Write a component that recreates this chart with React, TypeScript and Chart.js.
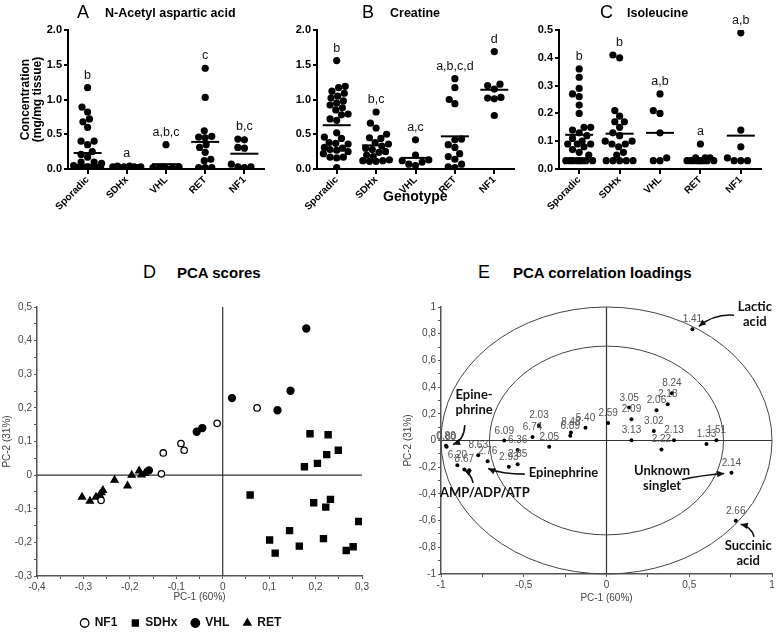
import React, { useEffect, useRef } from 'react';
import { Chart, registerables } from 'chart.js';
Chart.register(...registerables);

const FONT = "'Liberation Sans', Arial, sans-serif";

// ---------- Top row: genotype dot plots ----------
const genotypes = ['Sporadic', 'SDHx', 'VHL', 'RET', 'NF1'];

// A: N-Acetyl aspartic acid (mg/mg tissue)
const naaSporadic = [1.17, 0.89, 0.82, 0.72, 0.68, 0.60, 0.40, 0.40, 0.35, 0.25, 0.21, 0.17, 0.10, 0.10, 0.08, 0.05, 0.03, 0.03, 0.02, 0.02, 0.02, 0.02, 0.02, 0.02, 0.02, 0.01, 0.01, 0.01, 0.01, 0.01, 0.01];
const naaSDHx = [0.04, 0.04, 0.03, 0.03, 0.03, 0.03, 0.02, 0.02, 0.02, 0.02, 0.02, 0.02, 0.02, 0.02, 0.01, 0.01, 0.01, 0.01, 0.01, 0.01, 0.01, 0.01];
const naaVHL = [0.35, 0.03, 0.03, 0.02, 0.02, 0.02, 0.01];
const naaRET = [1.45, 1.03, 0.55, 0.47, 0.46, 0.45, 0.35, 0.31, 0.24, 0.14, 0.12, 0.02, 0.02, 0.02];
const naaNF1 = [0.43, 0.42, 0.31, 0.30, 0.07, 0.03, 0.03, 0.02];
const naaMeans = [0.23, 0.02, 0.07, 0.39, 0.22];
const naaLetters = ['b', 'a', 'a,b,c', 'c', 'b,c'];

// B: Creatine
const creaSporadic = [1.56, 1.19, 1.17, 1.12, 1.09, 1.05, 1.02, 0.98, 0.95, 0.92, 0.88, 0.85, 0.79, 0.78, 0.72, 0.70, 0.52, 0.46, 0.44, 0.38, 0.37, 0.36, 0.31, 0.30, 0.28, 0.27, 0.25, 0.22, 0.17, 0.17, 0.16, 0.02];
const creaSDHx = [0.82, 0.66, 0.59, 0.50, 0.45, 0.44, 0.38, 0.36, 0.33, 0.30, 0.28, 0.25, 0.24, 0.20, 0.18, 0.13, 0.12, 0.12, 0.11, 0.11];
const creaVHL = [0.42, 0.20, 0.13, 0.12, 0.10, 0.07, 0.05];
const creaRET = [1.30, 1.17, 1.00, 0.94, 0.43, 0.42, 0.35, 0.31, 0.22, 0.18, 0.14, 0.07, 0.03, 0.02];
const creaNF1 = [1.69, 1.22, 1.20, 1.15, 1.03, 1.02, 1.01, 0.77];
const creaMeans = [0.63, 0.34, 0.16, 0.47, 1.14];
const creaLetters = ['b', 'b,c', 'a,c', 'a,b,c,d', 'd'];

// C: Isoleucine
const ileSporadic = [0.36, 0.33, 0.29, 0.27, 0.26, 0.23, 0.20, 0.15, 0.15, 0.14, 0.13, 0.12, 0.11, 0.10, 0.09, 0.09, 0.09, 0.08, 0.07, 0.06, 0.05, 0.03, 0.03, 0.03, 0.03, 0.03, 0.03, 0.03, 0.03];
const ileSDHx = [0.41, 0.40, 0.21, 0.19, 0.17, 0.17, 0.15, 0.13, 0.12, 0.10, 0.10, 0.09, 0.09, 0.08, 0.06, 0.05, 0.03, 0.03, 0.03, 0.03, 0.03];
const ileVHL = [0.27, 0.21, 0.20, 0.13, 0.04, 0.03, 0.03];
const ileRET = [0.09, 0.04, 0.04, 0.04, 0.03, 0.03, 0.03, 0.03, 0.03, 0.03, 0.03, 0.03];
const ileNF1 = [0.49, 0.14, 0.08, 0.04, 0.03, 0.03, 0.03];
const ileMeans = [0.123, 0.127, 0.13, 0.037, 0.12];
const ileLetters = ['b', 'b', 'a,b', 'a', 'a,b'];

// ---------- D: PCA scores ----------
const scoresNF1X = [0.074, -0.012, -0.090, -0.083, -0.128, -0.132, -0.262];
const scoresNF1Y = [0.200, 0.154, 0.094, 0.074, 0.066, 0.004, -0.075];
const scoresSDHxX = [0.188, 0.227, 0.249, 0.224, 0.204, 0.176, 0.059, 0.196, 0.232, 0.222, 0.293, 0.144, 0.101, 0.113, 0.165, 0.217, 0.266, 0.281];
const scoresSDHxY = [0.123, 0.120, 0.074, 0.061, 0.035, 0.025, -0.059, -0.082, -0.072, -0.095, -0.138, -0.165, -0.193, -0.232, -0.211, -0.189, -0.224, -0.213];
const scoresVHLX = [0.180, 0.146, 0.118, 0.020, -0.044, -0.056, -0.159];
const scoresVHLY = [0.436, 0.251, 0.193, 0.229, 0.140, 0.129, 0.014];
const scoresRETX = [-0.303, -0.286, -0.273, -0.265, -0.261, -0.258, -0.233, -0.205, -0.196, -0.180, -0.175, -0.168];
const scoresRETY = [-0.065, -0.077, -0.065, -0.059, -0.052, -0.045, -0.015, -0.032, 0.0, 0.013, 0.001, 0.005];

// ---------- E: PCA correlation loadings ----------
const loadingLabels = ['1.41', '8.24', '2.18', '2.06', '3.05', '2.09', '2.59', '3.02', '3.13', '2.13', '2.22', '1.33', '1.51', '2.14', '2.66', '5.40', '8.48', '6.89', '2.03', '6.74', '2.05', '6.09', '6.36', '8.63', '2.76', '2.93', '2.85', '6.20', '8.67', '', '0.80', '0.88'];
const loadingX = [0.519, 0.395, 0.370, 0.302, 0.137, 0.151, 0.010, 0.286, 0.151, 0.408, 0.332, 0.604, 0.664, 0.755, 0.781, -0.127, -0.215, -0.219, -0.408, -0.447, -0.346, -0.618, -0.537, -0.775, -0.718, -0.590, -0.537, -0.901, -0.859, -0.829, -0.966, -0.970];
const loadingY = [0.833, 0.354, 0.272, 0.227, 0.247, 0.159, 0.132, 0.072, 0.002, 0.002, -0.067, -0.027, 0.002, -0.242, -0.601, 0.095, 0.060, 0.035, 0.115, 0.027, -0.047, 0.000, -0.072, -0.110, -0.155, -0.197, -0.177, -0.185, -0.217, -0.222, -0.047, -0.040];
const loadingCircleRadii = [1, Math.SQRT1_2];

const annoText = [['Lactic', 'acid'], ['Epine-', 'phrine'], ['Epinephrine'], ['AMP/ADP/ATP'], ['Unknown', 'singlet'], ['Succinic', 'acid']];
const annoX = [0.896, -0.800, -0.260, -0.735, 0.336, 0.856];
const annoY = [0.998, 0.339, -0.244, -0.392, -0.230, -0.789];
const arrowFromX = [0.771, -0.856, -0.494, -0.806, 0.457, 0.892];
const arrowFromY = [0.938, 0.115, -0.252, -0.317, -0.292, -0.721];
const arrowCtrlX = [0.654, -0.860, -0.634, -0.820, 0.574, 0.876];
const arrowCtrlY = [0.951, 0.002, -0.252, -0.247, -0.260, -0.647];
const arrowToX = [0.558, -0.927, -0.715, -0.860, 0.711, 0.811];
const arrowToY = [0.855, -0.030, -0.210, -0.217, -0.247, -0.627];

type Pt = { x: number; y: number };

function swarm(values: number[], cat: number, yMax: number, plotH: number, catW: number): Pt[] {
  const d = 7;
  const maxOff = Math.floor(catW * 0.36);
  const k = plotH / yMax;
  const sorted = [...values].sort((a, b) => a - b);
  const placed: Pt[] = [];
  for (const v of sorted) {
    const py = v * k;
    let best = 0;
    let bestDist = -1;
    for (let i = 0; i <= 2 * maxOff; i++) {
      const off = i % 2 === 0 ? i / 2 : -(i + 1) / 2;
      let m = Infinity;
      for (const p of placed) m = Math.min(m, Math.hypot(p.x - off, p.y - py));
      if (m >= d) { best = off; break; }
      if (m > bestDist) { bestDist = m; best = off; }
    }
    placed.push({ x: best, y: py });
  }
  return placed.map((p) => ({ x: cat + p.x / catW, y: p.y / k }));
}

function dotPlotConfig(groups: number[][], means: number[], letters: string[], yMax: number, yStep: number,
  yTitle: string[] | null, yWidth: number, padRight: number, canvasW: number) {
  const plotH = 139;
  const catW = (canvasW - yWidth - padRight) / groups.length;
  const points = groups.flatMap((g, i) => swarm(g, i + 1, yMax, plotH, catW));
  const meanPts = means.map((m, i) => ({ x: i + 1, y: m }));
  const lettersPlugin = {
    id: 'letters',
    afterDatasetsDraw(chart: any) {
      const { ctx, scales: { x, y } } = chart;
      ctx.save();
      ctx.font = `12.5px ${FONT}`;
      ctx.fillStyle = '#111';
      ctx.textAlign = 'center';
      ctx.textBaseline = 'alphabetic';
      letters.forEach((t, i) => {
        const mx = Math.max(...groups[i]);
        ctx.fillText(t, x.getPixelForValue(i + 1), y.getPixelForValue(mx) - 9);
      });
      ctx.restore();
    },
  };
  return {
    type: 'scatter',
    data: {
      datasets: [
        { data: points, pointRadius: 3.6, pointHoverRadius: 3.6, backgroundColor: '#000', borderWidth: 0 },
        { data: meanPts, pointStyle: 'line', pointRadius: 14, pointHoverRadius: 14, borderColor: '#000', borderWidth: 2, backgroundColor: '#000' },
      ],
    },
    options: {
      responsive: false,
      animation: false,
      devicePixelRatio: 1,
      events: [],
      layout: { padding: { top: 30, right: padRight, left: 0, bottom: 0 } },
      plugins: { legend: { display: false }, tooltip: { enabled: false } },
      scales: {
        x: {
          type: 'linear', min: 0.5, max: groups.length + 0.5,
          afterBuildTicks: (s: any) => { s.ticks = genotypes.map((_, i) => ({ value: i + 1 })); },
          ticks: {
            callback: (v: number) => genotypes[Math.round(v) - 1] ?? '',
            minRotation: 45, maxRotation: 45, autoSkip: false,
            font: { family: FONT, size: 10, weight: 'bold' }, color: '#000', padding: 0,
          },
          grid: { drawOnChartArea: false, drawTicks: true, tickLength: 5, color: '#000', lineWidth: 2 },
          border: { display: true, color: '#000', width: 2 },
          afterFit: (s: any) => { s.height = 46; },
        },
        y: {
          min: 0, max: yMax,
          ticks: {
            stepSize: yStep, callback: (v: number) => v.toFixed(1),
            font: { family: FONT, size: 11, weight: 'bold' }, color: '#000', padding: 2,
          },
          grid: { drawOnChartArea: false, drawTicks: true, tickLength: 4, color: '#000', lineWidth: 2 },
          border: { display: true, color: '#000', width: 2 },
          title: yTitle ? {
            display: true, text: yTitle, color: '#000',
            font: { family: FONT, size: 12, weight: 'bold', lineHeight: 1.05 }, padding: { top: 19, bottom: 0 },
          } : { display: false },
          afterFit: (s: any) => { s.width = yWidth; },
        },
      },
    },
    plugins: [lettersPlugin],
  };
}

function fmtComma(v: number, every: number) {
  const r = Math.round(v * 1000);
  const e = Math.round(every * 1000);
  if (r % e !== 0) return '';
  return String(r / 1000).replace('.', ',');
}

function pcaAxis(min: number, max: number, step: number, every: number, title: string, isX: boolean, fit: number, titlePad: any) {
  return {
    type: 'linear', min, max,
    ticks: {
      stepSize: step, autoSkip: false, minRotation: 0, maxRotation: 0,
      font: { family: FONT, size: 10 }, color: '#444', padding: 2,
      callback: (v: number) => fmtComma(v, every),
    },
    grid: { drawOnChartArea: false, drawTicks: true, tickLength: 3, color: '#555', lineWidth: 1 },
    border: { display: true, color: '#555', width: 1.5 },
    title: { display: true, text: title, font: { family: FONT, size: 10 }, color: '#444', padding: titlePad },
    afterFit: (s: any) => { if (isX) s.height = fit; else s.width = fit; },
  };
}

const zeroLines = {
  id: 'zeroLines',
  beforeDatasetsDraw(chart: any) {
    const { ctx, chartArea: a, scales: { x, y } } = chart;
    const px = x.getPixelForValue(0);
    const py = y.getPixelForValue(0);
    ctx.save();
    ctx.strokeStyle = '#333';
    ctx.lineWidth = 1.2;
    ctx.beginPath();
    ctx.moveTo(px, a.top); ctx.lineTo(px, a.bottom);
    ctx.moveTo(a.left, py); ctx.lineTo(a.right, py);
    ctx.stroke();
    ctx.restore();
  },
};

const toXY = (xs: number[], ys: number[]) => xs.map((x, i) => ({ x, y: ys[i] }));

function scoresConfig() {
  const common = { borderColor: '#000', pointBorderColor: '#000', borderWidth: 1.3, pointHoverRadius: 4 };
  return {
    type: 'scatter',
    data: {
      datasets: [
        { label: 'NF1', data: toXY(scoresNF1X, scoresNF1Y), pointStyle: 'circle', pointRadius: 3.2, backgroundColor: '#fff', ...common },
        { label: 'SDHx', data: toXY(scoresSDHxX, scoresSDHxY), pointStyle: 'rect', pointRadius: 4.3, backgroundColor: '#000', ...common },
        { label: 'VHL', data: toXY(scoresVHLX, scoresVHLY), pointStyle: 'circle', pointRadius: 3.5, backgroundColor: '#000', ...common },
        { label: 'RET', data: toXY(scoresRETX, scoresRETY), pointStyle: 'triangle', pointRadius: 4, backgroundColor: '#000', ...common },
      ],
    },
    options: {
      responsive: false, animation: false, devicePixelRatio: 1, events: [],
      layout: { padding: { top: 22, right: 23, left: 0, bottom: 0 } },
      plugins: {
        tooltip: { enabled: false },
        legend: {
          display: true, position: 'bottom',
          labels: {
            usePointStyle: true, boxHeight: 6, boxWidth: 8, padding: 14, color: '#111',
            font: { family: FONT, size: 12, weight: 'bold' },
          },
        },
      },
      scales: {
        x: pcaAxis(-0.4, 0.3, 0.05, 0.1, 'PC-1 (60%)', true, 27, { top: 0, bottom: 0 }),
        y: pcaAxis(-0.3, 0.5, 0.05, 0.1, 'PC-2 (31%)', false, 37, { top: 1, bottom: 0 }),
      },
    },
    plugins: [zeroLines],
  };
}

function loadingsConfig() {
  const circles = {
    id: 'circles',
    beforeDatasetsDraw(chart: any) {
      const { ctx, scales: { x, y } } = chart;
      const cx = x.getPixelForValue(0);
      const cy = y.getPixelForValue(0);
      ctx.save();
      ctx.strokeStyle = '#444';
      ctx.lineWidth = 1;
      loadingCircleRadii.forEach((r) => {
        const rx = x.getPixelForValue(r) - cx;
        const ry = cy - y.getPixelForValue(r);
        ctx.beginPath();
        ctx.ellipse(cx, cy, rx, ry, 0, 0, Math.PI * 2);
        ctx.stroke();
      });
      ctx.restore();
    },
  };
  const labels = {
    id: 'pointLabels',
    afterDatasetsDraw(chart: any) {
      const { ctx, scales: { x, y } } = chart;
      ctx.save();
      ctx.font = `10px ${FONT}`;
      ctx.fillStyle = '#555';
      ctx.textAlign = 'center';
      ctx.textBaseline = 'alphabetic';
      loadingLabels.forEach((t, i) => {
        ctx.fillText(t, x.getPixelForValue(loadingX[i]), y.getPixelForValue(loadingY[i]) - 7);
      });
      // annotations
      ctx.fillStyle = '#111';
      ctx.strokeStyle = '#111';
      ctx.font = `bold 13px Lato, ${FONT}`;
      ctx.textBaseline = 'middle';
      annoText.forEach((lines, i) => {
        const tx = x.getPixelForValue(annoX[i]);
        const ty = y.getPixelForValue(annoY[i]);
        lines.forEach((ln, j) => ctx.fillText(ln, tx, ty + j * 15));
        const fx = x.getPixelForValue(arrowFromX[i]);
        const fy = y.getPixelForValue(arrowFromY[i]);
        const qx = x.getPixelForValue(arrowCtrlX[i]);
        const qy = y.getPixelForValue(arrowCtrlY[i]);
        const ex = x.getPixelForValue(arrowToX[i]);
        const ey = y.getPixelForValue(arrowToY[i]);
        ctx.lineWidth = 1.6;
        ctx.beginPath();
        ctx.moveTo(fx, fy);
        ctx.quadraticCurveTo(qx, qy, ex, ey);
        ctx.stroke();
        const ang = Math.atan2(ey - qy, ex - qx);
        const L = 7, W = 3.2;
        ctx.beginPath();
        ctx.moveTo(ex, ey);
        ctx.lineTo(ex - L * Math.cos(ang) + W * Math.sin(ang), ey - L * Math.sin(ang) - W * Math.cos(ang));
        ctx.lineTo(ex - L * Math.cos(ang) - W * Math.sin(ang), ey - L * Math.sin(ang) + W * Math.cos(ang));
        ctx.closePath();
        ctx.fill();
      });
      ctx.restore();
    },
  };
  return {
    type: 'scatter',
    data: {
      datasets: [
        { label: 'Loadings', data: toXY(loadingX, loadingY), pointRadius: 2, pointHoverRadius: 2, backgroundColor: '#000', borderWidth: 0 },
      ],
    },
    options: {
      responsive: false, animation: false, devicePixelRatio: 1, events: [],
      layout: { padding: { top: 22, right: 5, left: 0, bottom: 0 } },
      plugins: { legend: { display: false }, tooltip: { enabled: false } },
      scales: {
        x: pcaAxis(-1, 1, 0.25, 0.5, 'PC-1 (60%)', true, 58, { top: 0, bottom: 28 }),
        y: pcaAxis(-1, 1, 0.1, 0.2, 'PC-2 (31%)', false, 51, { top: 12, bottom: 0 }),
      },
    },
    plugins: [zeroLines, circles, labels],
  };
}

function ChartBox({ left, top, width, height, make }: { left: number; top: number; width: number; height: number; make: () => any }) {
  const ref = useRef<HTMLCanvasElement>(null);
  useEffect(() => {
    const chart = new Chart(ref.current as HTMLCanvasElement, make());
    return () => chart.destroy();
  }, []);
  return (
    <div style={{ position: 'absolute', left, top, width, height }}>
      <canvas ref={ref} width={width} height={height} style={{ display: 'block', width, height }} />
    </div>
  );
}

function Txt({ left, top, size, bold, children }: { left: number; top: number; size: number; bold?: boolean; children: React.ReactNode }) {
  return (
    <div style={{ position: 'absolute', left, top, fontSize: size, fontWeight: bold ? 'bold' : 'normal', lineHeight: 1, whiteSpace: 'nowrap', color: '#000', fontFamily: FONT }}>
      {children}
    </div>
  );
}

export default function App() {
  return (
    <div style={{ position: 'absolute', left: 0, top: 0, width: 777, height: 632, overflow: 'hidden', background: '#fff', fontFamily: FONT }}>
      <ChartBox left={0} top={0} width={280} height={215}
        make={() => dotPlotConfig([naaSporadic, naaSDHx, naaVHL, naaRET, naaNF1], naaMeans, naaLetters, 2, 0.5, ['Concentration', '(mg/mg tissue)'], 68, 2, 280)} />
      <ChartBox left={280} top={0} width={250} height={215}
        make={() => dotPlotConfig([creaSporadic, creaSDHx, creaVHL, creaRET, creaNF1], creaMeans, creaLetters, 2, 0.5, null, 37, 5.5, 250)} />
      <ChartBox left={530} top={0} width={247} height={215}
        make={() => dotPlotConfig([ileSporadic, ileSDHx, ileVHL, ileRET, ileNF1], ileMeans, ileLetters, 0.5, 0.1, null, 29, 7, 247)} />
      <ChartBox left={0} top={285} width={385} height={354} make={scoresConfig} />
      <ChartBox left={390} top={285} width={387} height={347} make={loadingsConfig} />

      <Txt left={77} top={3} size={18}>A</Txt>
      <Txt left={105} top={6.5} size={12.5} bold>N-Acetyl aspartic acid</Txt>
      <Txt left={362} top={3} size={18}>B</Txt>
      <Txt left={390} top={6.5} size={12.5} bold>Creatine</Txt>
      <Txt left={600} top={3} size={18}>C</Txt>
      <Txt left={627} top={6.5} size={12.5} bold>Isoleucine</Txt>
      <Txt left={383} top={189} size={14} bold>Genotype</Txt>
      <Txt left={143} top={263} size={18}>D</Txt>
      <Txt left={177} top={265} size={15} bold>PCA scores</Txt>
      <Txt left={478} top={263} size={18}>E</Txt>
      <Txt left={513} top={265} size={15} bold>PCA correlation loadings</Txt>
    </div>
  );
}
